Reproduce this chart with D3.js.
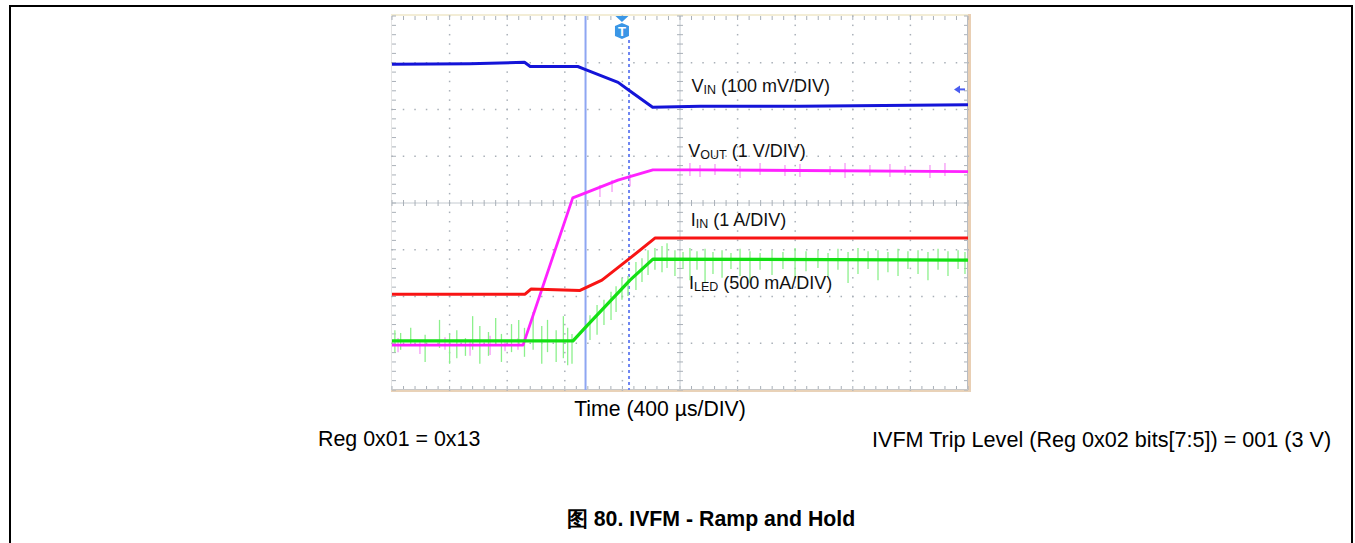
<!DOCTYPE html>
<html><head><meta charset="utf-8">
<script src="https://cdn.jsdelivr.net/npm/d3@7"></script>
<style>
html,body{margin:0;padding:0;background:#fff;}
svg{display:block;font-family:"Liberation Sans",Arial,sans-serif;}
</style></head>
<body>
<svg id="c" width="1355" height="543"></svg>
<script>
// ---- data (time in µs, level in screen divisions) ----
const timeVin  = [-2000,-1460,-1080,-1040,-710,-660,-430,-350,-190,140,830,2000];
const vin      = [2.97,2.98,3.01,2.92,2.92,2.86,2.58,2.40,2.05,2.07,2.07,2.10];
const timeVout = [-2000,-1090,-745,-660,-431,-188,140,2000];
const vout     = [-3.04,-3.04,0.11,0.21,0.49,0.71,0.71,0.67];
const timeIin  = [-2000,-1076,-1035,-694,-542,-347,-174,2000];
const iin      = [-1.95,-1.95,-1.84,-1.87,-1.65,-1.18,-0.75,-0.75];
const timeIled = [-2000,-743,-660,-347,-188,2000];
const iled     = [-2.95,-2.95,-2.67,-1.65,-1.20,-1.22];

// noise spikes: time, top level, bottom level
const ledSpikeT  = [-1980,-1940,-1870,-1770,-1670,-1600,-1550,-1490,-1440,-1390,-1330,-1280,-1240,-1170,-1120,-1080,-1020,-960,-920,-860,-810,-780,-750,
  -625,-576,-528,-479,-444,-403,-361,-306,-264,-222,-174,
  -125,-90,-35,21,69,118,174,229,292,354,417,486,556,639,715,799,875,958,1028,1097,1167,1236,1306,1375,1444,1514,1583,1653,1722,1792,1861,1931,1979];
const ledSpikeHi = [-2.72,-2.78,-2.67,-2.82,-2.50,-2.80,-2.72,-2.89,-2.42,-2.63,-2.76,-2.46,-2.80,-2.59,-2.50,-2.67,-2.33,-2.63,-2.50,-2.72,-2.42,-2.67,-2.80,
  -2.40,-2.18,-2.07,-1.90,-1.78,-1.60,-1.56,-1.26,-1.18,-1.01,-0.96,
  -0.92,-0.86,-1.01,-1.05,-0.96,-1.03,-0.98,-1.05,-1.01,-1.07,-0.98,-1.03,-1.07,-1.01,-1.05,-0.96,-1.03,-1.01,-1.07,-0.98,-1.05,-0.96,-1.03,-1.01,-1.05,-0.98,-1.03,-1.01,-1.05,-0.98,-1.03,-1.01,-1.05];
const ledSpikeLo = [-3.19,-3.14,-3.06,-3.40,-3.10,-3.44,-3.32,-3.27,-3.14,-3.44,-3.27,-3.06,-3.40,-3.19,-3.06,-3.29,-3.14,-3.44,-3.19,-3.40,-3.32,-3.47,-3.44,
  -2.93,-2.82,-2.61,-2.50,-2.33,-2.07,-1.99,-1.86,-1.69,-1.54,-1.43,
  -1.48,-1.39,-1.56,-1.41,-1.65,-1.43,-1.69,-1.52,-1.60,-1.41,-1.56,-1.71,-1.43,-1.54,-1.41,-1.60,-1.46,-1.39,-1.58,-1.43,-1.71,-1.52,-1.41,-1.65,-1.48,-1.56,-1.41,-1.52,-1.65,-1.43,-1.56,-1.41,-1.52];
const outSpikeT  = [-1958,-1806,-1632,-1458,-1319,-1215,-1125,-556,-472,-347,69,139,243,417,556,729,833,1042,1146,1319,1458,1563,1736,1840];
const outSpikeHi = [-2.89,-2.93,-2.87,-2.97,-2.84,-2.93,-2.89,0.385,0.492,0.62,0.856,0.813,0.834,0.791,0.856,0.813,0.834,0.791,0.856,0.813,0.834,0.791,0.813,0.856];
const outSpikeLo = [-3.19,-3.23,-3.14,-3.27,-3.25,-3.17,-3.14,0.128,0.235,0.36,0.578,0.556,0.599,0.535,0.599,0.578,0.556,0.599,0.535,0.578,0.556,0.599,0.535,0.578];

const cursorSolidT = -656, cursorDotT = -354, triggerT = -403, vinRefLevel = 2.43;

const labels = [
  {main:"V", sub:"IN",  rest:" (100 mV/DIV)", t:80,  lvl:2.38},
  {main:"V", sub:"OUT", rest:" (1 V/DIV)",   t:58,  lvl:0.985},
  {main:"I", sub:"IN",  rest:" (1 A/DIV)",   t:74,  lvl:-0.5},
  {main:"I", sub:"LED", rest:" (500 mA/DIV)", t:62, lvl:-1.85}
];
const xTitle = "Time (400 µs/DIV)";
const noteLeft = "Reg 0x01 = 0x13";
const noteRight = "IVFM Trip Level (Reg 0x02 bits[7:5]) = 001 (3 V)";
const caption = "图 80. IVFM - Ramp and Hold";

// ---- layout ----
const svg = d3.select("#c");
const L=392, R=968, T=16, B=390;
const x = d3.scaleLinear().domain([-2000,2000]).range([L,R]);
const y = d3.scaleLinear().domain([-4,4]).range([B,T]);
const divT = d3.range(-2000,2001,400), divV = d3.range(-4,4.01,1);
const minorT = d3.range(-2000,2001,80), minorV = d3.range(-4,4.01,0.2);

// outer frame
svg.append("path").attr("d","M10,543 V6 H1352 V543").attr("fill","none").attr("stroke","#000").attr("stroke-width",2);

// scope background and borders
svg.append("rect").attr("x",L).attr("y",T).attr("width",R-L).attr("height",B-T).attr("fill","#fff");
svg.append("rect").attr("x",L-1).attr("y",T-2).attr("width",R-L+4).attr("height",2).attr("fill","#f3edd6");
svg.append("rect").attr("x",R).attr("y",T-2).attr("width",3).attr("height",B-T+4).attr("fill","#e9cfb4");
svg.append("rect").attr("x",L-1).attr("y",B).attr("width",R-L+4).attr("height",2).attr("fill","#e9d2b8");
svg.append("rect").attr("x",L-1).attr("y",T).attr("width",1).attr("height",B-T).attr("fill","#e4e4e4");

const g = svg.append("g");
const gridCol = "#a9b0b8";
divT.slice(1,-1).forEach(t=>{ if(t===0) return;
  minorV.forEach(v=>g.append("rect").attr("x",x(t)-0.75).attr("y",y(v)-0.75).attr("width",1.5).attr("height",1.5).attr("fill",gridCol)); });
divV.slice(1,-1).forEach(v=>{ if(v===0) return;
  minorT.forEach(t=>g.append("rect").attr("x",x(t)-0.75).attr("y",y(v)-0.75).attr("width",1.5).attr("height",1.5).attr("fill",gridCol)); });
g.append("line").attr("x1",L).attr("x2",R).attr("y1",y(0)).attr("y2",y(0)).attr("stroke","#c4cad0").attr("stroke-width",1);
g.append("line").attr("x1",x(0)).attr("x2",x(0)).attr("y1",T).attr("y2",B).attr("stroke","#c4cad0").attr("stroke-width",1);
minorT.forEach(t=>g.append("line").attr("x1",x(t)).attr("x2",x(t)).attr("y1",y(0)-3).attr("y2",y(0)+3).attr("stroke",gridCol).attr("stroke-width",1));
minorV.forEach(v=>g.append("line").attr("x1",x(0)-3).attr("x2",x(0)+3).attr("y1",y(v)).attr("y2",y(v)).attr("stroke",gridCol).attr("stroke-width",1));
minorT.forEach(t=>{
  g.append("line").attr("x1",x(t)).attr("x2",x(t)).attr("y1",T).attr("y2",T+4).attr("stroke",gridCol);
  g.append("line").attr("x1",x(t)).attr("x2",x(t)).attr("y1",B-4).attr("y2",B).attr("stroke",gridCol);
});
minorV.forEach(v=>{
  g.append("line").attr("x1",L).attr("x2",L+4).attr("y1",y(v)).attr("y2",y(v)).attr("stroke",gridCol);
  g.append("line").attr("x1",R-4).attr("x2",R).attr("y1",y(v)).attr("y2",y(v)).attr("stroke",gridCol);
});
g.append("line").attr("x1",R-0.5).attr("x2",R-0.5).attr("y1",T).attr("y2",B).attr("stroke","#b8bcc2");
g.append("line").attr("x1",L).attr("x2",R).attr("y1",B-0.5).attr("y2",B-0.5).attr("stroke","#c8c8c8");

// cursors
g.append("line").attr("x1",x(cursorSolidT)).attr("x2",x(cursorSolidT)).attr("y1",T).attr("y2",B).attr("stroke","#8ea6f2").attr("stroke-width",2);
g.append("line").attr("x1",x(cursorDotT)).attr("x2",x(cursorDotT)).attr("y1",T+24).attr("y2",B).attr("stroke","#6f86f2").attr("stroke-width",2).attr("stroke-dasharray","3,3");

function spikes(ts,hi,lo,col){
  ts.forEach((t,i)=>g.append("line").attr("x1",x(t)).attr("x2",x(t)).attr("y1",y(hi[i])).attr("y2",y(lo[i])).attr("stroke",col).attr("stroke-width",1.3));
}
spikes(outSpikeT,outSpikeHi,outSpikeLo,"#f59af5");
spikes(ledSpikeT,ledSpikeHi,ledSpikeLo,"#8cf08c");

const line = d3.line().x(d=>x(d[0])).y(d=>y(d[1]));
function trace(ts,vs,col,w){
  g.append("path").datum(ts.map((t,i)=>[t,vs[i]])).attr("d",line).attr("fill","none").attr("stroke",col).attr("stroke-width",w).attr("stroke-linejoin","round");
}
trace(timeVout,vout,"#ff22ff",2.8);
trace(timeVin,vin,"#1414d8",3);
trace(timeIin,iin,"#f81414",3);
trace(timeIled,iled,"#14e014",3.2);

// trigger marker
const tx = x(triggerT);
svg.append("path").attr("d",`M${tx-6.5},${T} L${tx+6.5},${T} L${tx},${T+6} Z`).attr("fill","#3a96e6");
svg.append("path").attr("d",`M${tx-7},${T+10} L${tx},${T+7} L${tx+7},${T+10} L${tx+7},${T+20} L${tx},${T+23} L${tx-7},${T+20} Z`).attr("fill","#3a96e6");
svg.append("text").attr("x",tx).attr("y",T+20).attr("text-anchor","middle").attr("font-size",13).attr("font-weight","bold").attr("fill","#fff").text("T");
// reference arrow
const ay = y(vinRefLevel);
svg.append("path").attr("d",`M${R-14},${ay} L${R-8},${ay-4} L${R-8},${ay+4} Z`).attr("fill","#4a5cf0");
svg.append("line").attr("x1",R-9).attr("x2",R-3).attr("y1",ay).attr("y2",ay).attr("stroke","#4a5cf0").attr("stroke-width",2);

// trace labels
labels.forEach(l=>{
  const t = svg.append("text").attr("x",x(l.t)).attr("y",y(l.lvl)).attr("font-size",18).attr("fill","#111");
  t.append("tspan").text(l.main);
  t.append("tspan").attr("font-size",12.5).attr("dy",2).text(l.sub);
  t.append("tspan").attr("dy",-2).text(l.rest);
});

// bottom texts
svg.append("text").attr("x",660).attr("y",416).attr("text-anchor","middle").attr("font-size",21.2).attr("fill","#000").text(xTitle);
svg.append("text").attr("x",318).attr("y",446).attr("font-size",21.4).attr("fill","#000").text(noteLeft);
svg.append("text").attr("x",872).attr("y",447).attr("font-size",21.6).attr("fill","#000").text(noteRight);
svg.append("text").attr("x",711).attr("y",526).attr("text-anchor","middle").attr("font-size",21.3).attr("font-weight","bold").attr("fill","#000").text(caption);
</script>
</body></html>
